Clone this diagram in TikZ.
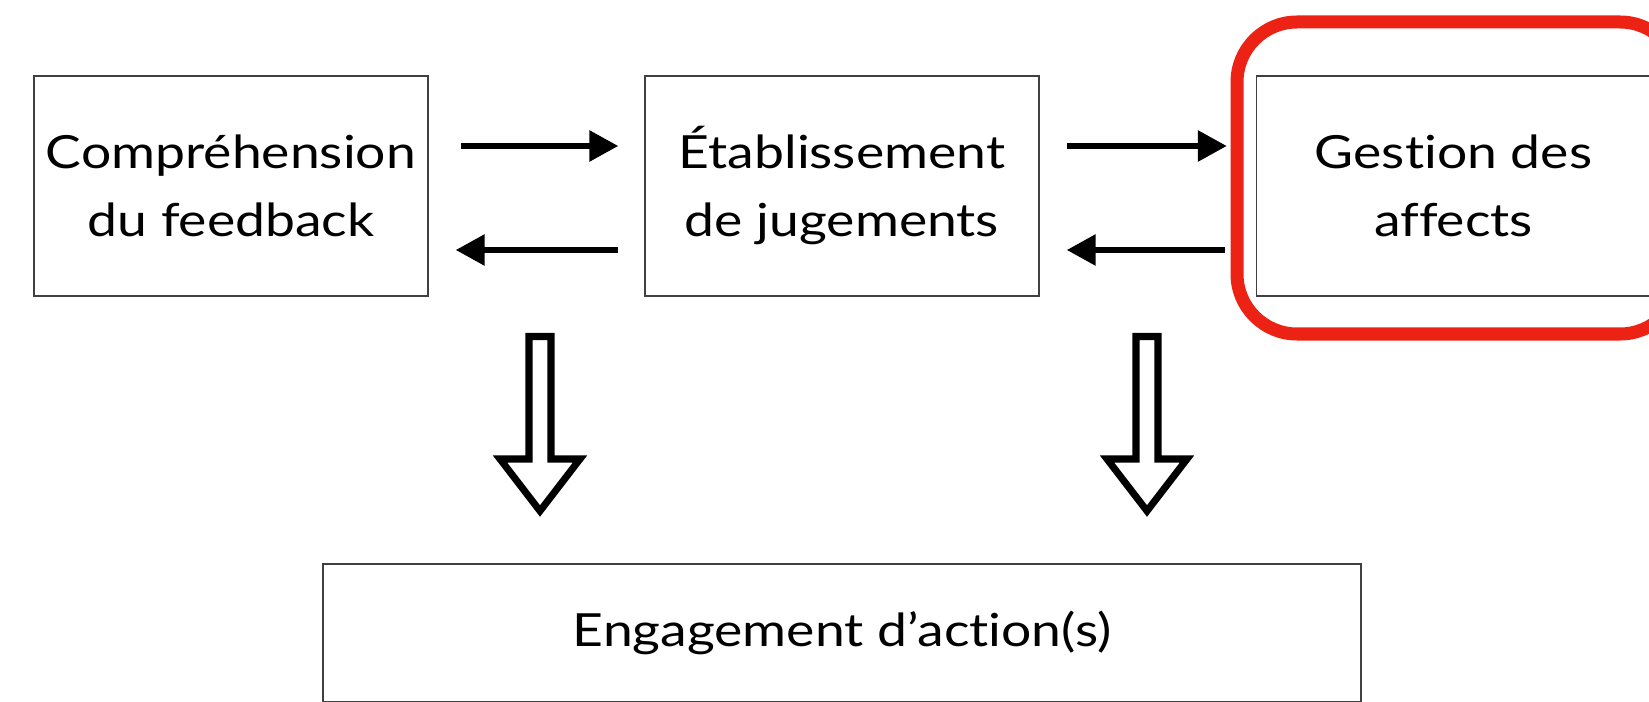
\documentclass[tikz,border=0pt]{standalone}
\usepackage{fontspec}
\setmainfont{Lato}[FakeStretch=1.17, Ligatures=NoCommon]
\usetikzlibrary{arrows.meta}
\definecolor{rouge}{RGB}{236,34,20}
\tikzset{
	etape/.style={draw=black!75, line width=0.8pt, minimum width=7.88cm, minimum height=4.4cm, inner sep=0pt, align=center, font=\fontsize{26}{38.7}\selectfont},
	fleche/.style={line width=3.4pt, -{Triangle[length=5.8mm,width=6mm]}},
	cadre/.style={draw=rouge, line width=7.4pt, rounded corners=1.2cm},
	creuse/.style={draw=black, line width=4pt, line join=miter, fill=white}
}
\def\blockarrow(#1){\draw[creuse] ({#1-0.22},7.29) -- ({#1+0.22},7.29) -- ({#1+0.22},4.84) -- ({#1+0.8},4.84) -- (#1,3.8) -- ({#1-0.8},4.84) -- ({#1-0.22},4.84) -- cycle;}

\begin{document}
\begin{tikzpicture}
			%%%%% START %%%%%
			\useasboundingbox (0,0) rectangle (32.98,14.02);
			
			\node[etape] (comp) at (4.62,10.3) {Compréhension\\du feedback};
			\node[etape] (etab) at (16.84,10.3) {Établissement\\de jugements};
			\node[etape] (gest) at (29.07,10.3) {Gestion des\\affects};
			\node[etape, minimum width=20.76cm, minimum height=2.76cm] (engag) at (16.84,1.36) {Engagement d’action(s)};
			
			\draw[cadre] (24.74,7.34) rectangle (33.6,13.58);
			
			\draw[fleche, shorten <=0.64cm, shorten >=0.52cm] ([yshift=0.8cm]comp.east) -- ([yshift=0.8cm]etab.west);
			\draw[fleche, shorten <=0.52cm, shorten >=0.54cm] ([yshift=-1.28cm]etab.west) -- ([yshift=-1.28cm]comp.east);
			\draw[fleche, shorten <=0.54cm, shorten >=0.58cm] ([yshift=0.8cm]etab.east) -- ([yshift=0.8cm]gest.west);
			\draw[fleche, shorten <=0.62cm, shorten >=0.54cm] ([yshift=-1.28cm]gest.west) -- ([yshift=-1.28cm]etab.east);
			
			\blockarrow(10.8)
			\blockarrow(22.94)
			
			%%%%% END %%%%%
\end{tikzpicture}
\end{document}
